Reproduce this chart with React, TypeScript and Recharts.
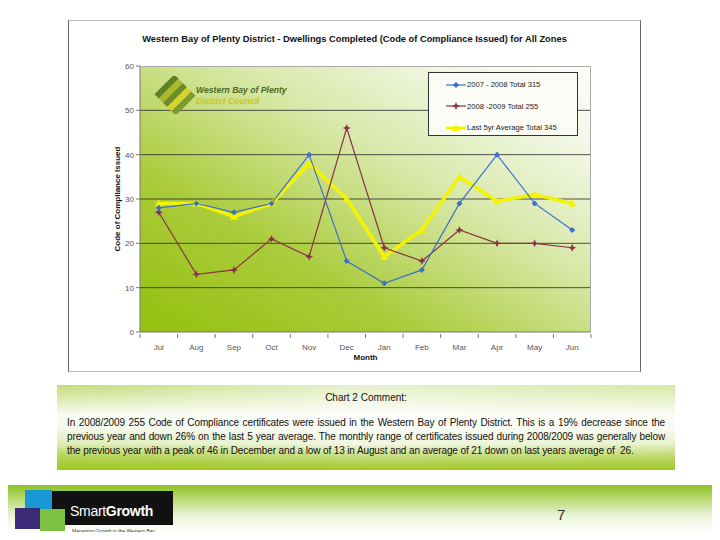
import React from "react"
import { LineChart, Line, XAxis, YAxis, CartesianGrid, ReferenceLine } from "recharts"

const months = ["Jul", "Aug", "Sep", "Oct", "Nov", "Dec", "Jan", "Feb", "Mar", "Apr", "May", "Jun"]
const year0708 = [28, 29, 27, 29, 40, 16, 11, 14, 29, 40, 29, 23]
const year0809 = [27, 13, 14, 21, 17, 46, 19, 16, 23, 20, 20, 19]
const avg5yr = [29, 29, 26, 29, 38, 30, 17, 23, 35, 29.5, 31, 29]
const yTicks = [0, 10, 20, 30, 40, 50, 60]
const gridValues = [10, 20, 30, 40, 50]

const legendItems = [
  { key: "a", label: "2007 - 2008  Total 315", color: "#3b6fd1" },
  { key: "b", label: "2008 -2009 Total 255", color: "#8a3347" },
  { key: "c", label: "Last 5yr Average  Total 345", color: "#f4f400" },
]

const commentLines = [
  "In 2008/2009 255 Code of Compliance certificates were issued in the Western Bay of Plenty District. This is a 19% decrease since the",
  "previous year and down 26% on the last 5 year average. The monthly range of certificates issued during 2008/2009 was generally below",
  "the previous year with a peak of 46 in December and a low of 13 in August and an average of 21 down on last years average of\u00a0 26.",
]

const data = months.map((m, i) => ({ month: m, a: year0708[i], b: year0809[i], c: avg5yr[i] }))

const FONT = "'Liberation Sans', Arial, sans-serif"
const W = 720
const H = 540
const X_H = 30
const M = { top: 66, right: 129, bottom: 178, left: 100 }
const Y_W = 40
const plotW = W - M.left - M.right - Y_W
const plotH = H - M.top - M.bottom - X_H
const band = plotW / months.length

function Diamond(props: any) {
  const { cx, cy, fill } = props
  if (cx == null || cy == null) return null
  return <path d={`M${cx},${cy - 3} L${cx + 3},${cy} L${cx},${cy + 3} L${cx - 3},${cy} Z`} fill={fill} />
}

function Star(props: any) {
  const { cx, cy, fill } = props
  if (cx == null || cy == null) return null
  return (
    <path
      d={`M${cx},${cy - 4} L${cx + 1.2},${cy - 1.2} L${cx + 4},${cy} L${cx + 1.2},${cy + 1.2} L${cx},${cy + 4} L${cx - 1.2},${cy + 1.2} L${cx - 4},${cy} L${cx - 1.2},${cy - 1.2} Z`}
      fill={fill}
    />
  )
}

function Tri(props: any) {
  const { cx, cy, fill } = props
  if (cx == null || cy == null) return null
  return <path d={`M${cx},${cy - 4} L${cx + 4},${cy + 3} L${cx - 4},${cy + 3} Z`} fill={fill} />
}

function MonthTick(props: any) {
  const { x, y, payload, index } = props
  const axisY = y - 4
  return (
    <g>
      <line x1={x - band / 2} x2={x - band / 2} y1={axisY} y2={axisY + 4} stroke="#777" />
      {index === months.length - 1 && (
        <line x1={x + band / 2} x2={x + band / 2} y1={axisY} y2={axisY + 4} stroke="#777" />
      )}
      <text
        x={x}
        y={axisY + 16}
        textAnchor="middle"
        fontSize={8}
        fontWeight="normal"
        fill="#555"
        stroke="none"
        fontFamily={FONT}
      >
        {payload.value}
      </text>
    </g>
  )
}

function LegendBox() {
  return (
    <div
      style={{
        position: "absolute",
        left: 428,
        top: 72,
        width: 150,
        height: 64,
        boxSizing: "border-box",
        border: "1px solid #333",
        background: "#fbfcf6",
        fontFamily: FONT,
        fontSize: 7.6,
        color: "#222",
        paddingTop: 1,
      }}
    >
      {legendItems.map((it) => (
        <div key={it.key} style={{ display: "flex", alignItems: "center", height: 21.5 }}>
          <svg width={38} height={10}>
            <line x1={17} x2={37} y1={5} y2={5} stroke={it.color} strokeWidth={it.key === "c" ? 3 : 1.2} />
            {it.key === "a" && <Diamond cx={27} cy={5} fill={it.color} />}
            {it.key === "b" && <Star cx={27} cy={5} fill={it.color} />}
            {it.key === "c" && <Tri cx={27} cy={5} fill={it.color} />}
          </svg>
          <span>{it.label}</span>
        </div>
      ))}
    </div>
  )
}

function CouncilLogo() {
  return (
    <div style={{ position: "absolute", left: 154, top: 76, width: 150, height: 40, pointerEvents: "none" }}>
      <svg width={42} height={38} style={{ position: "absolute", left: 0, top: 0 }}>
        <g transform="rotate(45 21 19)">
          <rect x={6} y={5} width={6} height={28} fill="#5e7f24" />
          <rect x={12} y={5} width={6} height={28} fill="#a9b92a" />
          <rect x={18} y={5} width={6} height={28} fill="#6d8c28" />
          <rect x={24} y={5} width={6} height={28} fill="#d6d42c" />
          <rect x={30} y={5} width={6} height={28} fill="#7e9a2c" />
        </g>
      </svg>
      <div
        style={{
          position: "absolute",
          left: 42,
          top: 9,
          fontFamily: FONT,
          fontSize: 8.6,
          fontWeight: 700,
          fontStyle: "italic",
          lineHeight: "11px",
          whiteSpace: "nowrap",
        }}
      >
        <div style={{ color: "#4d6a1c" }}>Western Bay of Plenty</div>
        <div style={{ color: "#cfc41c" }}>District Council</div>
      </div>
    </div>
  )
}

function SmartGrowthLogo() {
  return (
    <div style={{ position: "absolute", left: 12, top: 490, width: 165, height: 46 }}>
      <div style={{ position: "absolute", left: 40, top: 1, width: 121, height: 34, background: "#111" }} />
      <div style={{ position: "absolute", left: 13, top: 0, width: 27, height: 22, background: "#1a98d5" }} />
      <div style={{ position: "absolute", left: 3, top: 18, width: 25, height: 21, background: "#3a2a78" }} />
      <div style={{ position: "absolute", left: 28, top: 19, width: 25, height: 22, background: "#7dc143" }} />
      <div
        style={{
          position: "absolute",
          left: 58,
          top: 13,
          color: "#fff",
          fontFamily: FONT,
          fontSize: 14,
          lineHeight: "16px",
          whiteSpace: "nowrap",
          letterSpacing: -0.3,
        }}
      >
        Smart<b>Growth</b>
      </div>
      <div
        style={{
          position: "absolute",
          left: 60,
          top: 38,
          color: "#333",
          fontFamily: FONT,
          fontSize: 5,
          whiteSpace: "nowrap",
        }}
      >
        Managing Growth in the Western Bay
      </div>
    </div>
  )
}

export default function App() {
  return (
    <div style={{ position: "relative", width: W, height: H, margin: -8, background: "#fff", overflow: "hidden" }}>
      {/* chart frame */}
      <div
        style={{
          position: "absolute",
          left: 68,
          top: 20,
          width: 573,
          height: 352,
          borderLeft: "1px solid #666",
          borderRight: "1px solid #666",
          borderTop: "1px solid #bbb",
          borderBottom: "1px solid #bbb",
          boxSizing: "border-box",
        }}
      />
      <div
        style={{
          position: "absolute",
          left: 68,
          top: 34,
          width: 573,
          textAlign: "center",
          fontFamily: FONT,
          fontSize: 9.3,
          fontWeight: 700,
          color: "#111",
        }}
      >
        Western Bay of Plenty District - Dwellings Completed (Code of Compliance Issued) for All Zones
      </div>

      <div style={{ position: "absolute", left: 0, top: 0 }}>
        <LineChart width={W} height={H} data={data} margin={M}>
          <defs>
            <linearGradient id="plotBg" x1="0" y1="1" x2="1" y2="0">
              <stop offset="0" stopColor="#94c00e" />
              <stop offset="0.3" stopColor="#aacb3a" />
              <stop offset="0.6" stopColor="#d8e8a8" />
              <stop offset="0.85" stopColor="#f3f8e8" />
              <stop offset="1" stopColor="#fbfdf6" />
            </linearGradient>
          </defs>
          <CartesianGrid horizontal={false} vertical={false} fill="url(#plotBg)" />
          {gridValues.map((v) => (
            <ReferenceLine key={v} y={v} stroke="#333" strokeOpacity={0.85} strokeWidth={1} />
          ))}
          <XAxis
            dataKey="month"
            height={X_H}
            stroke="#777"
            tickLine={false}
            tickSize={4}
            tick={<MonthTick />}
            interval={0}
            padding={{ left: band / 2, right: band / 2 }}
            label={{ value: "Month", position: "insideBottom", offset: 2, fontSize: 8, fontWeight: 700, fill: "#111", fontFamily: FONT }}
          />
          <YAxis
            width={Y_W}
            domain={[0, 60]}
            ticks={yTicks}
            stroke="#777"
            tickSize={4}
            tick={{ fontSize: 8, fill: "#555", fontFamily: FONT }}
            label={{ value: "Code of Compliance Issued", angle: -90, position: "center", dx: -3, fontSize: 8, fontWeight: 700, fill: "#111", fontFamily: FONT }}
          />
          <Line dataKey="c" stroke="#f4f400" strokeWidth={3.5} dot={<Tri fill="#f4f400" />} isAnimationActive={false} />
          <Line dataKey="b" stroke="#8a3347" strokeWidth={1.2} dot={<Star fill="#8a3347" />} isAnimationActive={false} />
          <Line dataKey="a" stroke="#3b6fd1" strokeWidth={1.2} dot={<Diamond fill="#3b6fd1" />} isAnimationActive={false} />
        </LineChart>
      </div>

      {/* plot border */}
      <div
        style={{
          position: "absolute",
          left: M.left + Y_W,
          top: M.top,
          width: plotW,
          height: plotH,
          borderTop: "1px solid #aaa",
          borderRight: "1px solid #aaa",
          boxSizing: "border-box",
          pointerEvents: "none",
        }}
      />
      <CouncilLogo />
      <LegendBox />

      {/* comment box */}
      <div
        style={{
          position: "absolute",
          left: 57,
          top: 385,
          width: 618,
          height: 85,
          background:
            "linear-gradient(to bottom, rgba(255,255,255,0) 0%, rgba(255,255,255,0.9) 35%, rgba(255,255,255,0.85) 50%, rgba(255,255,255,0) 90%), linear-gradient(to right, #c2dc78 0%, #e7f1cc 50%, #d6e8a4 100%)",
          fontFamily: FONT,
          color: "#111",
        }}
      >
        <div
          style={{
            position: "absolute",
            left: 0,
            right: 0,
            bottom: 0,
            height: 26,
            background: "linear-gradient(to bottom, rgba(160,200,40,0), #a0c725)",
          }}
        />
        <div style={{ position: "absolute", left: 0, width: 618, top: 7, textAlign: "center", fontSize: 10 }}>
          Chart 2 Comment:
        </div>
        <div style={{ position: "absolute", left: 10, top: 31, width: 598, fontSize: 10, lineHeight: "14px", letterSpacing: -0.12 }}>
          {commentLines.map((t, i) => (
            <div
              key={i}
              style={{
                whiteSpace: "nowrap",
                textAlign: i < commentLines.length - 1 ? "justify" : "left",
                textAlignLast: i < commentLines.length - 1 ? "justify" : "left",
              }}
            >
              {t}
            </div>
          ))}
        </div>
      </div>

      {/* footer */}
      <div
        style={{
          position: "absolute",
          left: 0,
          top: 485,
          width: W,
          height: 55,
          background: "linear-gradient(to bottom, #8cc224 0%, #b4d668 22%, #e9f3d4 55%, #ffffff 85%)",
        }}
      />
      <SmartGrowthLogo />
      <div style={{ position: "absolute", left: 557, top: 506, fontFamily: FONT, fontSize: 15, color: "#333" }}>7</div>
    </div>
  )
}
